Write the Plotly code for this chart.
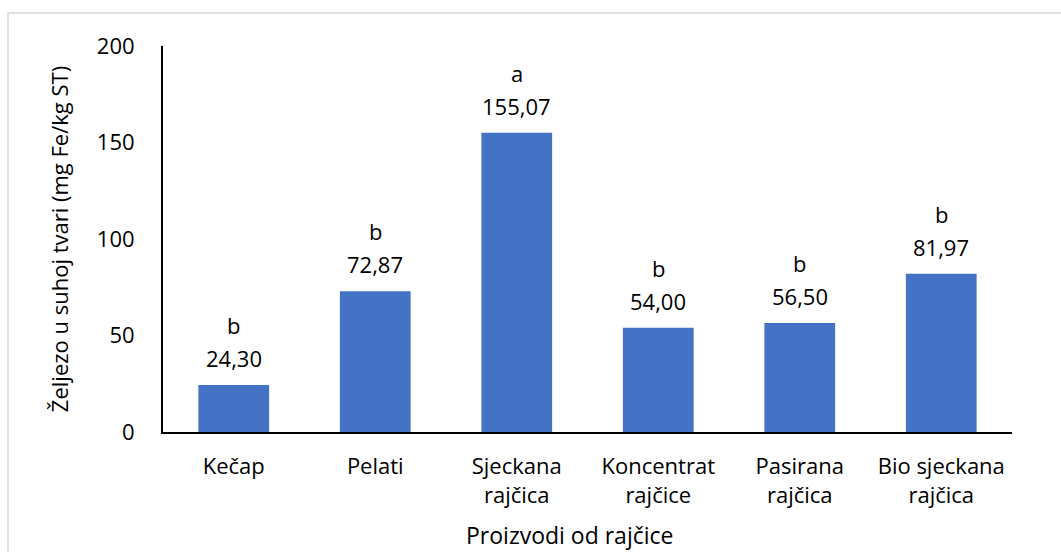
import plotly.graph_objects as go

categories = ["Kečap", "Pelati", "Sjeckana<br>rajčica", "Koncentrat<br>rajčice", "Pasirana<br>rajčica", "Bio sjeckana<br>rajčica"]
values = [24.30, 72.87, 155.07, 54.00, 56.50, 81.97]
letters = ["b", "b", "a", "b", "b", "b"]
y_ticks = [0, 50, 100, 150, 200]

FONT = "Open Sans"
FS = 22
BLUE = "#4472C4"

fig = go.Figure()
fig.add_trace(go.Bar(x=categories, y=values, marker=dict(color=BLUE, line=dict(width=0)), width=0.5,
                     hoverinfo="skip"))

ann = []
for c, v, l in zip(categories, values, letters):
    ann.append(dict(x=c, y=v, xref="x", yref="y", text=f"{v:.2f}".replace(".", ","),
                    showarrow=False, yanchor="middle", yshift=27,
                    font=dict(family=FONT, size=FS, color="#000000")))
    ann.append(dict(x=c, y=v, xref="x", yref="y", text=l,
                    showarrow=False, yanchor="middle", yshift=60,
                    font=dict(family=FONT, size=FS, color="#000000")))
ann.append(dict(x=0.479, y=0.0, xref="paper", yref="paper", yanchor="middle", yshift=-103,
                text="Proizvodi od rajčice", showarrow=False,
                font=dict(family=FONT, size=FS + 1, color="#000000")))

fig.update_layout(
    width=1061, height=552,
    margin=dict(l=163, r=49, t=46, b=120),
    paper_bgcolor="white", plot_bgcolor="white",
    showlegend=False,
    font=dict(family=FONT, size=FS, color="#000000"),
    annotations=ann,
    bargap=0.5,
    shapes=[dict(type="rect", xref="paper", yref="paper", x0=-0.1826, x1=1.3, y0=-0.6, y1=1.0855,
                 line=dict(color="#d9d9d9", width=1.5), fillcolor="rgba(0,0,0,0)", layer="below")],
)
fig.update_xaxes(showline=True, linecolor="#000000", linewidth=2, ticks="", showgrid=False,
                 ticklabelstandoff=14, tickfont=dict(family=FONT, size=FS, color="#000000"))
fig.update_yaxes(range=[0, 200], tickvals=y_ticks, showline=True, linecolor="#000000", linewidth=2,
                 ticks="", showgrid=False, zeroline=False, ticklabelstandoff=22,
                 tickfont=dict(family=FONT, size=FS, color="#000000"),
                 title=dict(text="Željezo u suhoj tvari (mg Fe/kg ST)", standoff=22,
                            font=dict(family=FONT, size=FS, color="#000000")))

fig.write_html("out.html", config={"displayModeBar": False},
               post_script="document.body.style.margin='0';document.body.style.overflow='hidden';")
